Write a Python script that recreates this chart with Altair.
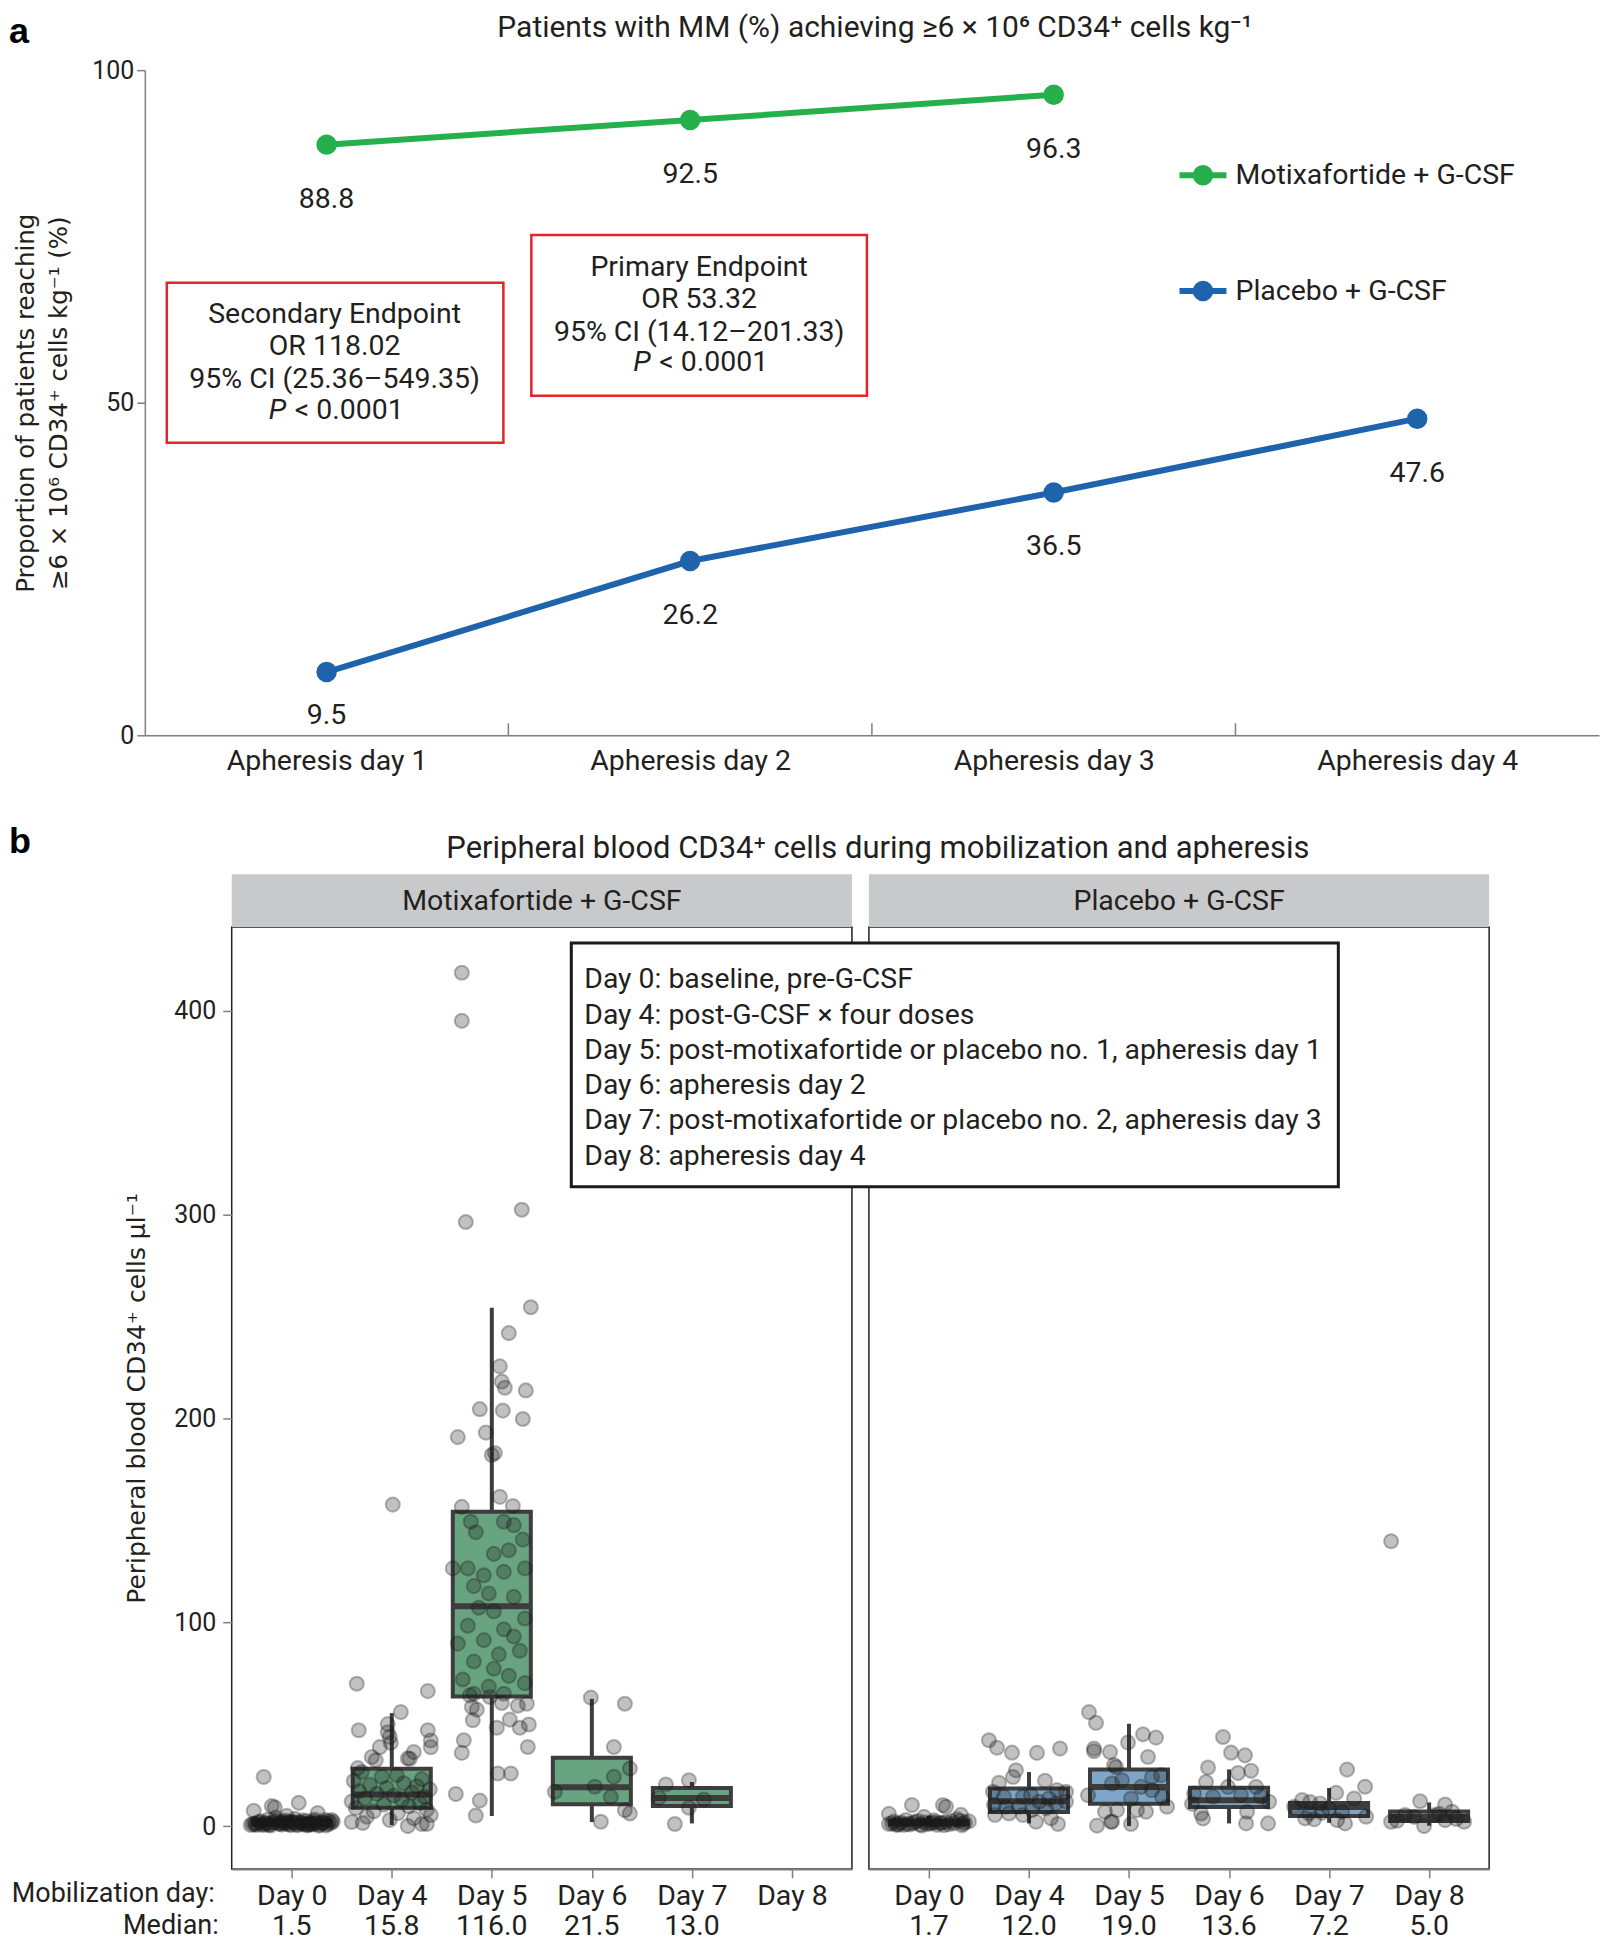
import json
import altair as alt
import pandas as pd

FONT = "Roboto"
YFONT = "DejaVu Sans"
TXT = "#231f20"
AXC = "#7f7f7f"
BOXC = "#3d3d3d"

# ---------------- panel a data ----------------
A_TITLE = "Patients with MM (%) achieving ≥6 × 10⁶ CD34⁺ cells kg⁻¹"
A_YTITLE = ["Proportion of patients reaching", "≥6 × 10⁶ CD34⁺ cells kg⁻¹ (%)"]
A_DAYS = ["Apheresis day 1", "Apheresis day 2", "Apheresis day 3", "Apheresis day 4"]
SERIES = ["Motixafortide + G-CSF", "Placebo + G-CSF"]
SERIES_COLORS = ["#25b04c", "#1f63ad"]
MOTIX_PCT = [88.8, 92.5, 96.3]
PLACEBO_PCT = [9.5, 26.2, 36.5, 47.6]
SECONDARY_LINES = ["Secondary Endpoint", "OR 118.02", "95% CI (25.36–549.35)"]
PRIMARY_LINES = ["Primary Endpoint", "OR 53.32", "95% CI (14.12–201.33)"]
P_TEXT = "< 0.0001"

# ---------------- panel b data ----------------
B_TITLE = "Peripheral blood CD34⁺ cells during mobilization and apheresis"
B_YTITLE = "Peripheral blood CD34⁺ cells µl⁻¹"
B_DAYS = ["Day 0", "Day 4", "Day 5", "Day 6", "Day 7", "Day 8"]
DAY_NOTES = [
    "Day 0: baseline, pre-G-CSF",
    "Day 4: post-G-CSF × four doses",
    "Day 5: post-motixafortide or placebo no. 1, apheresis day 1",
    "Day 6: apheresis day 2",
    "Day 7: post-motixafortide or placebo no. 2, apheresis day 3",
    "Day 8: apheresis day 4",
]
M_MEDIAN_TXT = ["1.5", "15.8", "116.0", "21.5", "13.0", ""]
P_MEDIAN_TXT = ["1.7", "12.0", "19.0", "13.6", "7.2", "5.0"]

# box summaries (per day index)
M_LO = [0.0, 0.5, 4.9, 2.0, 1.3]
M_Q1 = [0.6, 9.0, 63.6, 10.7, 9.8]
M_MED = [1.5, 15.5, 107.8, 19.0, 13.8]
M_Q3 = [2.6, 28.1, 154.2, 33.5, 18.7]
M_HI = [5.5, 55.4, 254.3, 62.4, 21.6]

P_LO = [0.0, 1.3, 0.0, 1.3, 1.6, 0.2]
P_Q1 = [0.8, 6.9, 11.0, 9.3, 4.9, 2.5]
P_MED = [1.7, 12.2, 19.2, 12.7, 9.3, 4.5]
P_Q3 = [2.6, 18.4, 27.7, 18.8, 11.3, 7.2]
P_HI = [5.0, 26.5, 50.2, 27.8, 18.7, 11.6]

# individual patients: values and horizontal jitter (in day-steps)
M0_Y = [0.5, 1.2, 2.0, 0.8, 1.5, 3.1, 0.3, 1.9, 2.6, 1.1, 0.7, 1.4, 2.2, 0.9, 1.7, 3.5, 0.4, 1.3, 2.8, 1.0,
        0.6, 1.6, 2.4, 1.2, 0.2, 1.8, 3.0, 0.9, 1.5, 2.1, 0.5, 1.4, 4.2, 1.1, 0.8, 2.5, 1.6, 0.3, 1.9, 1.0,
        24.1, 9.8, 9.2, 7.5, 11.4, 6.4, 5.0,
        1.0, 2.3, 0.6, 1.8, 1.3, 2.7, 0.4, 1.6, 2.0, 0.9, 1.2, 3.2, 0.7, 1.5, 2.4, 1.1, 0.5, 1.9, 2.2, 1.4,
        0.8, 1.7, 2.9, 1.0, 0.3]
M0_J = [-0.41, -0.37, -0.33, -0.30, -0.27, -0.24, -0.21, -0.18, -0.15, -0.12, -0.10, -0.07, -0.04, -0.02, 0.01,
        0.03, 0.06, 0.09, 0.11, 0.14, 0.17, 0.19, 0.22, 0.25, 0.27, 0.30, 0.33, 0.36, 0.39, 0.41, -0.35, -0.26,
        -0.16, -0.05, 0.05, 0.15, 0.24, 0.34, -0.09, 0.20,
        -0.28, -0.20, -0.17, -0.38, 0.07, 0.26, -0.05,
        -0.39, -0.31, -0.23, -0.19, -0.13, -0.08, -0.01, 0.04, 0.08, 0.13, 0.18, 0.23, 0.28, 0.32, 0.37,
        -0.36, -0.28, -0.11, 0.00, 0.10, 0.21, 0.31, 0.40, -0.22, 0.15]
M4_Y = [157.7, 69.8, 66.2, 55.9, 50.0, 47.0, 47.0, 46.0, 43.7, 42.0, 40.8, 38.7, 38.7, 36.3, 33.9, 33.2, 32.3,
        33.0, 28.4, 26.5, 25.0, 24.2, 23.0, 22.1, 21.0, 20.2, 19.5, 18.7, 18.0, 17.2, 16.4, 15.8, 15.0, 14.3,
        13.5, 12.8, 12.0, 11.2, 10.5, 9.7, 8.8, 8.0, 7.2, 6.3, 5.4, 4.6, 3.8, 3.0, 2.0, 1.5, 1.0, 0.0, 1.0]
M4_J = [0.01, -0.35, 0.36, 0.09, -0.04, -0.33, 0.36, -0.04, -0.02, 0.39, -0.01, -0.12, 0.39, 0.22, -0.20, 0.16,
        -0.16, 0.18, -0.34, -0.30, 0.05, -0.10, 0.30, -0.38, 0.12, -0.22, 0.25, -0.05, 0.38, -0.33, 0.20, -0.15,
        0.02, 0.33, -0.27, 0.10, -0.40, 0.28, -0.08, 0.17, -0.36, 0.35, -0.18, 0.06, 0.39, -0.25, 0.22, -0.02,
        -0.40, -0.29, 0.30, 0.16, 0.35]
M5_Y = [418.6, 395.0, 302.3, 296.3, 254.5, 241.8, 225.5, 218.0, 215.0, 213.7, 204.5, 203.8, 199.7, 190.8,
        193.0, 182.0, 183.0, 161.5, 156.6, 157.0,
        149.3, 144.1, 149.3, 147.6, 140.5, 135.3, 133.5, 126.4, 123.0, 124.7, 126.4, 126.4, 117.7, 114.1,
        112.4, 107.1, 105.3, 101.8, 98.3, 96.5, 93.0, 91.2, 89.5, 84.2, 86.0, 80.7, 77.2, 73.7, 71.9, 68.4,
        70.1, 64.9, 64.9,
        64.1, 63.3, 60.4, 59.0, 60.0, 58.4, 57.1, 51.9, 52.2, 48.2, 48.2, 49.8, 42.1, 35.9, 38.8, 25.8, 25.8,
        15.7, 12.5, 5.2]
M5_J = [-0.30, -0.30, 0.30, -0.26, 0.39, 0.17, 0.08, 0.10, 0.13, 0.34, -0.12, 0.11, 0.31, -0.34, -0.06, 0.00,
        0.03, 0.08, -0.30, 0.21,
        -0.21, -0.16, 0.12, 0.22, 0.31, 0.17, 0.02, -0.24, -0.08, 0.12, 0.33, -0.39, -0.18, -0.03, 0.22, -0.13,
        0.02, 0.33, -0.24, 0.12, 0.22, -0.08, -0.34, 0.07, 0.28, -0.18, 0.02, 0.17, -0.29, -0.03, 0.33, 0.12,
        -0.18,
        -0.22, -0.02, 0.10, 0.26, 0.35, -0.20, -0.15, -0.19, 0.18, 0.05, 0.28, 0.37, -0.28, -0.30, 0.36, 0.06,
        0.19, -0.36, -0.12, -0.16]
M6_Y = [63.0, 60.0, 38.8, 28.2, 24.2, 19.3, 16.8, 14.3, 7.8, 6.2, 2.1]
M6_J = [-0.01, 0.33, 0.22, 0.38, 0.22, 0.03, -0.37, 0.19, 0.33, 0.38, 0.09]
M7_Y = [20.4, 22.5, 13.9, 13.0, 9.0, 1.0]
M7_J = [-0.26, -0.03, -0.33, 0.12, -0.03, -0.17]

P0_Y = [1.0, 2.2, 0.5, 1.7, 3.0, 0.8, 1.4, 2.5, 0.3, 1.9, 1.2, 2.8, 0.6, 1.6, 2.0, 0.9, 1.3, 3.4, 0.4, 1.8,
        2.3, 1.1, 0.7, 1.5, 2.6, 1.0, 10.3, 10.3, 9.5, 6.0, 5.5, 4.5,
        1.3, 0.6, 2.1, 1.0, 1.8, 0.4, 2.4, 1.2, 0.8, 1.6]
P0_J = [-0.40, -0.35, -0.31, -0.28, -0.23, -0.19, -0.16, -0.11, -0.07, -0.04, 0.01, 0.05, 0.08, 0.13, 0.17,
        0.20, 0.25, 0.28, 0.33, 0.36, 0.40, -0.30, -0.09, 0.11, 0.31, -0.22, -0.17, 0.14, 0.17, -0.40, 0.32,
        -0.05,
        -0.37, -0.25, -0.14, -0.02, 0.06, 0.15, 0.23, 0.34, -0.33, 0.03]
P4_Y = [42.1, 38.4, 36.0, 35.9, 38.0, 27.4, 24.1, 21.2, 22.2, 17.6, 16.8, 16.8, 10.3, 14.4, 14.4, 15.2, 11.9,
        13.5, 11.1, 11.9, 9.5, 9.5, 7.8, 8.7, 5.4, 6.2, 5.4, 2.1, 3.8, 1.0]
P4_J = [-0.40, -0.32, -0.17, 0.08, 0.31, -0.13, -0.16, -0.30, 0.16, 0.28, 0.37, -0.36, -0.35, -0.25, -0.06,
        0.02, 0.10, 0.20, 0.27, 0.37, -0.23, -0.10, 0.03, 0.17, -0.34, -0.20, -0.06, 0.07, 0.22, 0.29]
P5_Y = [55.9, 50.6, 38.0, 36.7, 36.3, 29.9, 15.1, 7.0, 2.1, 0.2, 41.0, 45.0, 43.4, 33.9, 29.0, 25.0, 24.1,
        22.5, 20.9, 19.2, 17.6, 13.5, 14.4, 9.5, 7.0, 7.8, 7.8, 2.1, 1.0]
P5_J = [-0.40, -0.33, -0.35, -0.35, -0.19, -0.15, -0.41, -0.24, -0.18, -0.32, -0.01, 0.14, 0.27, 0.19, -0.13,
        0.32, 0.23, -0.07, -0.17, 0.12, 0.23, 0.02, 0.33, 0.38, 0.17, 0.08, -0.12, -0.17, 0.02]
P6_Y = [43.7, 36.0, 34.7, 28.7, 26.0, 27.1, 21.6, 10.9, 11.9, 6.2, 3.7, 7.0, 1.3, 1.3, 16.0, 14.4, 19.2, 19.2,
        14.4, 15.2]
P6_J = [-0.06, 0.02, 0.16, -0.21, 0.09, 0.22, -0.23, -0.37, 0.40, -0.28, -0.26, 0.18, 0.17, 0.39, -0.35, -0.16,
        -0.01, 0.27, 0.32, 0.12]
P7_Y = [27.7, 19.3, 16.3, 13.5, 12.7, 11.8, 11.1, 7.0, 6.2, 6.5, 4.6, 3.8, 3.3, 2.9, 1.3, 8.5, 9.5]
P7_J = [0.18, 0.36, 0.07, 0.25, -0.27, -0.19, -0.09, 0.13, -0.20, -0.07, 0.37, -0.24, -0.15, 0.08, 0.16, 0.00,
        -0.35]
P8_Y = [139.7, 12.2, 10.6, 7.0, 5.4, 5.4, 2.1, 2.6, 0.0, 2.9, 2.1, 4.5, 3.5, 6.0]
P8_J = [-0.38, -0.09, 0.16, 0.23, -0.24, 0.06, -0.38, -0.32, -0.05, 0.16, 0.35, -0.15, 0.27, 0.10]

M_GROUPS = [(0, M0_Y, M0_J), (1, M4_Y, M4_J), (2, M5_Y, M5_J), (3, M6_Y, M6_J), (4, M7_Y, M7_J)]
P_GROUPS = [(0, P0_Y, P0_J), (1, P4_Y, P4_J), (2, P5_Y, P5_J), (3, P6_Y, P6_J), (4, P7_Y, P7_J),
            (5, P8_Y, P8_J)]

BOX_FILLS = ["#68a47f", "#7ea6c9"]

one = pd.DataFrame({"k": [0]})
FS = 28.5


def txt(x, y, text, **kw):
    props = dict(font=FONT, color=TXT, fontSize=FS)
    props.update(kw)
    return alt.Chart(one).mark_text(**props).encode(
        x=alt.value(x), y=alt.value(y), text=alt.value(text))


def frame(x1, x2, y1, y2, **kw):
    return alt.Chart(one).mark_rect(**kw).encode(
        x=alt.value(x1), x2=alt.value(x2), y=alt.value(y1), y2=alt.value(y2))


# ======================= panel a =======================
Wa, Ha = 1456, 666
rows = []
for s, vals in zip(SERIES, [MOTIX_PCT, PLACEBO_PCT]):
    for i, v in enumerate(vals):
        rows.append({"series": s, "idx": i, "pct": v})
dfa = pd.DataFrame(rows)

cscale = alt.Scale(domain=SERIES, range=SERIES_COLORS)
xa_scale = alt.Scale(domain=[-0.5, len(A_DAYS) - 0.5], nice=False, zero=False)
xa_axis = alt.Axis(values=list(range(len(A_DAYS))), labelExpr=json.dumps(A_DAYS) + "[datum.value]",
                   title=None, grid=False, tickSize=0, domainColor=AXC, domainWidth=1.5,
                   labelFont=FONT, labelFontSize=FS, labelColor=TXT, labelPadding=11, labelFlush=False,
                   labelLimit=500)
ya_scale = alt.Scale(domain=[0, 100], nice=False)
ya_axis = alt.Axis(values=[0, 50, 100], title=A_YTITLE, titleFont=YFONT, titleFontSize=24.5,
                   titleFontWeight="normal", titleColor=TXT, titlePadding=20, titleLineHeight=33,
                   labelFont=FONT, labelFontSize=25, labelColor=TXT, tickSize=8, tickColor=AXC,
                   tickWidth=1.5, domainColor=AXC, domainWidth=1.5, labelPadding=3, grid=False)


def xa(field):
    return alt.X(f"{field}:Q", scale=xa_scale, axis=xa_axis)


def ya(field):
    return alt.Y(f"{field}:Q", scale=ya_scale, axis=ya_axis)


base_a = alt.Chart(dfa)
lines_a = base_a.mark_line(strokeWidth=6).encode(
    x=xa("idx"), y=ya("pct"), stroke=alt.Stroke("series:N", scale=cscale, legend=None))
dots_a = base_a.mark_circle(size=420, opacity=1).encode(
    x=xa("idx"), y=ya("pct"), color=alt.Color("series:N", scale=cscale, legend=None))
vals_a = base_a.transform_calculate(ly="max(datum.pct - 8.1, 3)").mark_text(
    font=FONT, fontSize=FS, color=TXT).encode(
    x=xa("idx"), y=ya("ly"), text=alt.Text("pct:Q", format=".1f"))

bounds_df = pd.DataFrame({"bx": [i + 0.5 for i in range(len(A_DAYS) - 1)]})
ticks_a = alt.Chart(bounds_df).mark_rule(color=AXC, strokeWidth=1.5).encode(
    x=xa("bx"), y=alt.value(Ha), y2=alt.value(Ha - 12))

# legend (built from the series list; rows placed in the upper right of the plot)
leg_df = pd.DataFrame({"series": SERIES, "i": list(range(len(SERIES)))})
leg_base = alt.Chart(leg_df).transform_calculate(ly="84.2 - 17.4 * datum.i")
leg_line = leg_base.mark_rule(strokeWidth=6).encode(
    x=alt.value(1036), x2=alt.value(1083), y=ya("ly"),
    stroke=alt.Stroke("series:N", scale=cscale, legend=None))
leg_dot = leg_base.mark_circle(size=420, opacity=1).encode(
    x=alt.value(1059.5), y=ya("ly"), color=alt.Color("series:N", scale=cscale, legend=None))
leg_txt = leg_base.mark_text(font=FONT, fontSize=FS, color=TXT, align="left", baseline="middle").encode(
    x=alt.value(1092), y=ya("ly"), text="series:N")

RED = "#e3242b"
panel_a = alt.layer(
    ticks_a, lines_a, dots_a, vals_a, leg_line, leg_dot, leg_txt,
    frame(22, 359, 213, 373, fill="white", fillOpacity=0, stroke=RED, strokeWidth=2.5),
    frame(387, 723, 165, 326, fill="white", fillOpacity=0, stroke=RED, strokeWidth=2.5),
    txt(190, 230, SECONDARY_LINES, baseline="top", lineHeight=32.6),
    txt(124, 340, "P", align="left", baseline="middle", fontStyle="italic"),
    txt(150, 340, P_TEXT, align="left", baseline="middle"),
    txt(555, 183, PRIMARY_LINES, baseline="top", lineHeight=32.6),
    txt(489, 292, "P", align="left", baseline="middle", fontStyle="italic"),
    txt(515, 292, P_TEXT, align="left", baseline="middle"),
    txt(731, -42, A_TITLE, fontSize=30, baseline="middle"),
    # invisible strip that fixes the top edge of the figure
    frame(-136, -120, -60, -59, fill="white", opacity=0),
    txt(-136, -55.5, "a", align="left", baseline="top", fontSize=36, fontWeight="bold",
        font="Liberation Sans", color="#000000"),
).properties(width=Wa, height=Ha)

# ======================= panel b =======================
Wb, Hb = 621, 943
xb_scale = alt.Scale(domain=[-0.6, len(B_DAYS) - 0.4], nice=False, zero=False)
xb_axis = alt.Axis(values=list(range(len(B_DAYS))), labelExpr=json.dumps(B_DAYS) + "[datum.value]",
                   title=None, grid=False, tickSize=9, tickColor=AXC, tickWidth=1.5, domainColor=AXC,
                   domainWidth=2, labelFont=FONT, labelFontSize=FS, labelColor=TXT, labelPadding=4,
                   labelFlush=False)
yb_scale = alt.Scale(domain=[-21, 441], nice=False, zero=False)
yb_axis = alt.Axis(values=[0, 100, 200, 300, 400], title=B_YTITLE, titleFont=YFONT, titleFontSize=25,
                   titleFontWeight="normal", titleColor=TXT, titlePadding=24, labelFont=FONT,
                   labelFontSize=25, labelColor=TXT, tickSize=9, tickColor=AXC, tickWidth=1.5,
                   labelPadding=7, domain=False, grid=False)


def xb(field):
    return alt.X(f"{field}:Q", scale=xb_scale, axis=xb_axis)


def yb(field, axis):
    return alt.Y(f"{field}:Q", scale=yb_scale, axis=axis)


def arm_panel(name, fill, groups, lo, q1, med, q3, hi, med_txt, axis, extra):
    prow = []
    for idx, ys, js in groups:
        assert len(ys) == len(js), (name, idx)
        for v, j in zip(ys, js):
            prow.append({"idx": idx, "val": v, "jit": j})
    pts = pd.DataFrame(prow)
    boxes = pd.DataFrame({"idx": list(range(len(lo))), "lo": lo, "q1": q1, "med": med, "q3": q3, "hi": hi})
    meds = pd.DataFrame({"idx": list(range(len(med_txt))), "label": med_txt})
    meds = meds[meds["label"] != ""]

    header = frame(0, Wb, -53, 0, fill="#c8c9cb", stroke="#c8c9cb", strokeWidth=0)
    head_txt = txt(Wb / 2, -26, name, baseline="middle")
    whisk = alt.Chart(boxes).mark_rule(color=BOXC, strokeWidth=4).encode(
        x=xb("idx"), y=yb("lo", axis), y2="hi")
    rect = alt.Chart(boxes).transform_calculate(
        x0="datum.idx - 0.39", x1="datum.idx + 0.39").mark_rect(
        fill=fill, stroke=BOXC, strokeWidth=4).encode(x=xb("x0"), x2="x1", y=yb("q1", axis), y2="q3")
    medl = alt.Chart(boxes).transform_calculate(
        x0="datum.idx - 0.39", x1="datum.idx + 0.39").mark_rule(color=BOXC, strokeWidth=6).encode(
        x=xb("x0"), x2="x1", y=yb("med", axis))
    dots = alt.Chart(pts).transform_calculate(xp="datum.idx + datum.jit").mark_circle(
        size=200, opacity=1, fill="#1a1a1a", fillOpacity=0.27, stroke="#1a1a1a", strokeOpacity=0.3,
        strokeWidth=2).encode(x=xb("xp"), y=yb("val", axis))
    medtxt = alt.Chart(meds).mark_text(font=FONT, fontSize=FS, color=TXT, baseline="middle").encode(
        x=xb("idx"), y=alt.value(Hb + 57), text="label:N")
    layers = [header, head_txt, whisk, rect, medl, dots, medtxt] + extra
    return alt.layer(*layers).properties(
        width=Wb, height=Hb, view=alt.ViewBackground(stroke="#222222", strokeWidth=1.5))


left_extra = [
    txt(-17, Hb + 25, "Mobilization day:", align="right", baseline="middle", fontSize=27),
    txt(-13, Hb + 57, "Median:", align="right", baseline="middle", fontSize=27),
    txt(647, -78, B_TITLE, fontSize=31, baseline="middle"),
    txt(-223, -85, "b", align="left", baseline="middle", fontSize=36, fontWeight="bold",
        font="Liberation Sans", color="#000000"),
]
right_extra = [
    frame(-298, 470, 16, 260, fill="white", stroke="#1a1a1a", strokeWidth=3),
    txt(-285, 39.5, DAY_NOTES, align="left", baseline="top", lineHeight=35.3, fontSize=28.4),
]

left_b = arm_panel(SERIES[0], BOX_FILLS[0], M_GROUPS, M_LO, M_Q1, M_MED, M_Q3, M_HI, M_MEDIAN_TXT,
                   yb_axis, left_extra)
right_b = arm_panel(SERIES[1], BOX_FILLS[1], P_GROUPS, P_LO, P_Q1, P_MED, P_Q3, P_HI, P_MEDIAN_TXT,
                    None, right_extra)

spacer = alt.Chart(one).mark_point(opacity=0).encode(x=alt.value(0), y=alt.value(0)).properties(
    width=70, height=Hb)

panel_b = alt.hconcat(spacer, left_b, right_b, spacing=17, bounds="flush")

chart = alt.vconcat(panel_a, panel_b, spacing=192, bounds="flush").properties(
    padding=0).configure_view(stroke="transparent")

chart.save("out.html", embed_options={"renderer": "svg", "actions": False})
